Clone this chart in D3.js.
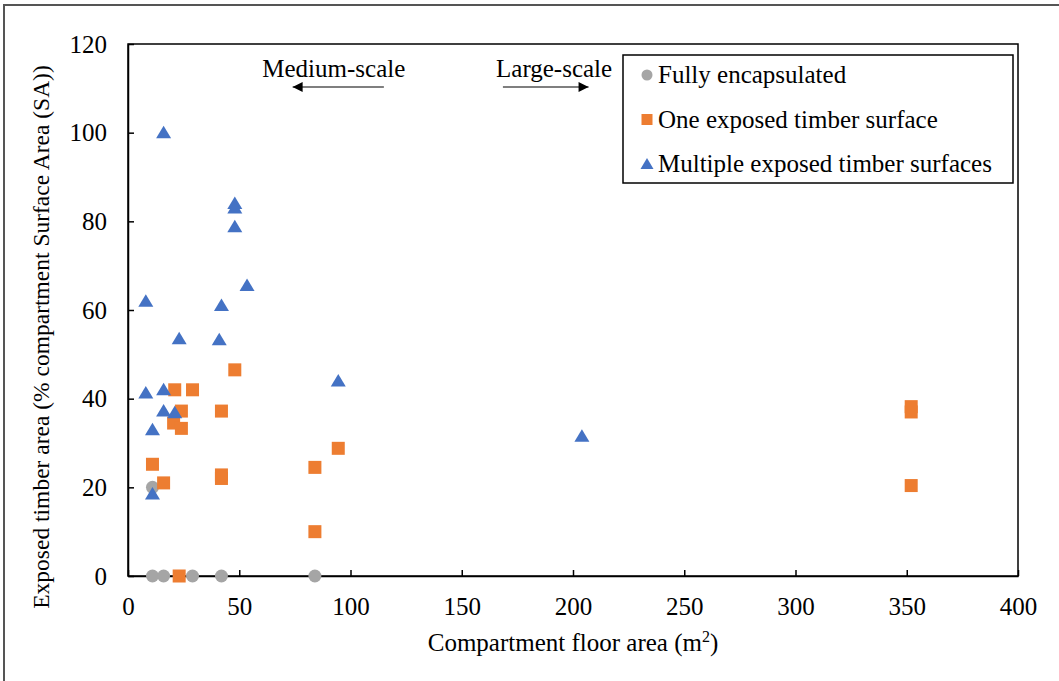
<!DOCTYPE html>
<html>
<head>
<meta charset="utf-8">
<script src="https://cdn.jsdelivr.net/npm/d3@7"></script>
<style>
  body { margin: 0; background: #fff; }
  text { font-family: "Liberation Serif", "Times New Roman", "DejaVu Serif", serif; fill: #000; }
</style>
</head>
<body>
<svg id="chart" width="1059" height="681"></svg>
<script>
// Fully encapsulated
const fullyX = [11, 16, 29, 42, 84, 11]
const fullyY = [0, 0, 0, 0, 0, 20]

// One exposed timber surface
const oneX = [48, 21, 29, 24, 42, 20.5, 24, 11, 16, 42, 42, 23, 94.5, 84, 84, 352, 352, 352]
const oneY = [46.5, 42, 42, 37.2, 37.2, 34.5, 33.3, 25.2, 21, 22, 22.8, 0, 28.8, 24.5, 10, 37, 38.2, 20.4]

// Multiple exposed timber surfaces
const multiX = [16, 48, 48, 48, 53.5, 8, 42, 23, 41, 8, 16, 16, 21, 11, 11, 94.5, 204]
const multiY = [100, 84, 83, 78.8, 65.5, 62, 61, 53.5, 53.3, 41.3, 42, 37.2, 36.8, 33, 18.5, 44, 31.5]

const xTicks = [0, 50, 100, 150, 200, 250, 300, 350, 400]
const yTicks = [0, 20, 40, 60, 80, 100, 120]

const seriesNames = ['Fully encapsulated', 'One exposed timber surface', 'Multiple exposed timber surfaces']
const seriesColors = ['#a5a5a5', '#ed7d31', '#4472c4']

const svg = d3.select('#chart')
const margin = {left: 128, top: 44, right: 41, bottom: 105}
const width = 1059 - margin.left - margin.right
const height = 681 - margin.top - margin.bottom

const x = d3.scaleLinear().domain([0, 400]).range([0, width])
const y = d3.scaleLinear().domain([0, 120]).range([height, 0])

// outer frame (top + left visible)
svg.append('path')
  .attr('d', 'M4,681 L4,5 L1059,5')
  .attr('fill', 'none')
  .attr('stroke', '#555')
  .attr('stroke-width', 2)

const g = svg.append('g').attr('transform', `translate(${margin.left},${margin.top})`)

// plot frame
g.append('rect')
  .attr('width', width).attr('height', height)
  .attr('fill', 'none').attr('stroke', '#000').attr('stroke-width', 1.5)

const xAxis = g.append('g')
  .attr('transform', `translate(0,${height})`)
  .call(d3.axisBottom(x).tickValues(xTicks).tickSizeInner(-6).tickSizeOuter(0).tickPadding(21))
const yAxis = g.append('g')
  .call(d3.axisLeft(y).tickValues(yTicks).tickSizeInner(-6).tickSizeOuter(0).tickPadding(21))

;[xAxis, yAxis].forEach(a => {
  a.select('.domain').attr('stroke', '#000').attr('stroke-width', 1.5)
  a.selectAll('.tick line').attr('stroke', '#000').attr('stroke-width', 1.5)
  a.selectAll('.tick text')
    .style('font-family', '"Liberation Serif", "Times New Roman", serif')
    .style('font-size', '25px')
    .attr('fill', '#000')
})
xAxis.selectAll('.tick text').attr('dy', '0.71em')

// axis titles
const xTitle = g.append('text')
  .attr('x', width / 2).attr('y', height + 75)
  .attr('text-anchor', 'middle')
  .style('font-size', '25px')
xTitle.append('tspan').text('Compartment floor area (m')
xTitle.append('tspan').attr('dy', -9).style('font-size', '16px').text('2')
xTitle.append('tspan').attr('dy', 9).text(')')

g.append('text')
  .attr('transform', `translate(${-79},${height / 2 + 27}) rotate(-90)`)
  .attr('text-anchor', 'middle')
  .style('font-size', '23.5px')
  .text('Exposed timber area (% compartment Surface Area (SA))')

// annotations
const defs = svg.append('defs')
defs.append('marker')
  .attr('id', 'arrow')
  .attr('viewBox', '0 0 10 10')
  .attr('refX', 10).attr('refY', 5)
  .attr('markerWidth', 13).attr('markerHeight', 10)
  .attr('markerUnits', 'userSpaceOnUse')
  .attr('orient', 'auto')
  .append('path').attr('d', 'M0,0 L10,5 L0,10 Z').attr('fill', '#000')

g.append('text')
  .attr('x', x(92.5)).attr('y', 33)
  .attr('text-anchor', 'middle')
  .style('font-size', '25px')
  .text('Medium-scale')
g.append('line')
  .attr('x1', x(115)).attr('x2', x(74))
  .attr('y1', 43).attr('y2', 43)
  .attr('stroke', '#000').attr('stroke-width', 1.2)
  .attr('marker-end', 'url(#arrow)')

g.append('text')
  .attr('x', x(191.5)).attr('y', 33)
  .attr('text-anchor', 'middle')
  .style('font-size', '25px')
  .text('Large-scale')
g.append('line')
  .attr('x1', x(168.5)).attr('x2', x(207))
  .attr('y1', 43).attr('y2', 43)
  .attr('stroke', '#000').attr('stroke-width', 1.2)
  .attr('marker-end', 'url(#arrow)')

// marker shapes
const shapes = [
  sel => sel.append('circle').attr('r', 6.5),
  sel => sel.append('rect').attr('x', -6.5).attr('y', -6.5).attr('width', 13).attr('height', 13),
  sel => sel.append('path').attr('d', 'M0,-7 L7.5,5.5 L-7.5,5.5 Z')
]

const series = [
  d3.zip(fullyX, fullyY),
  d3.zip(oneX, oneY),
  d3.zip(multiX, multiY)
]

series.forEach((pts, i) => {
  const pt = g.append('g').attr('fill', seriesColors[i])
    .selectAll('g')
    .data(pts)
    .join('g')
    .attr('transform', d => `translate(${x(d[0])},${y(d[1])})`)
  shapes[i](pt)
})

// legend
const legend = svg.append('g').attr('transform', 'translate(623,55)')
legend.append('rect')
  .attr('width', 390).attr('height', 128)
  .attr('fill', '#fff').attr('stroke', '#000').attr('stroke-width', 1.5)

const item = legend.selectAll('g.item')
  .data(seriesNames)
  .join('g')
  .attr('class', 'item')
  .attr('transform', (d, i) => `translate(24,${20 + i * 44.5})`)
item.each(function (d, i) {
  const s = d3.select(this).append('g').attr('fill', seriesColors[i])
  shapes[i](s)
  s.select('circle').attr('r', 5.5)
  s.select('rect').attr('x', -5.5).attr('y', -5.5).attr('width', 11).attr('height', 11)
  s.select('path').attr('d', 'M0,-6 L6.5,5 L-6.5,5 Z')
})
item.append('text')
  .attr('x', 11).attr('y', 0).attr('dy', '0.33em')
  .style('font-size', '25px')
  .text(d => d)
</script>
</body>
</html>
